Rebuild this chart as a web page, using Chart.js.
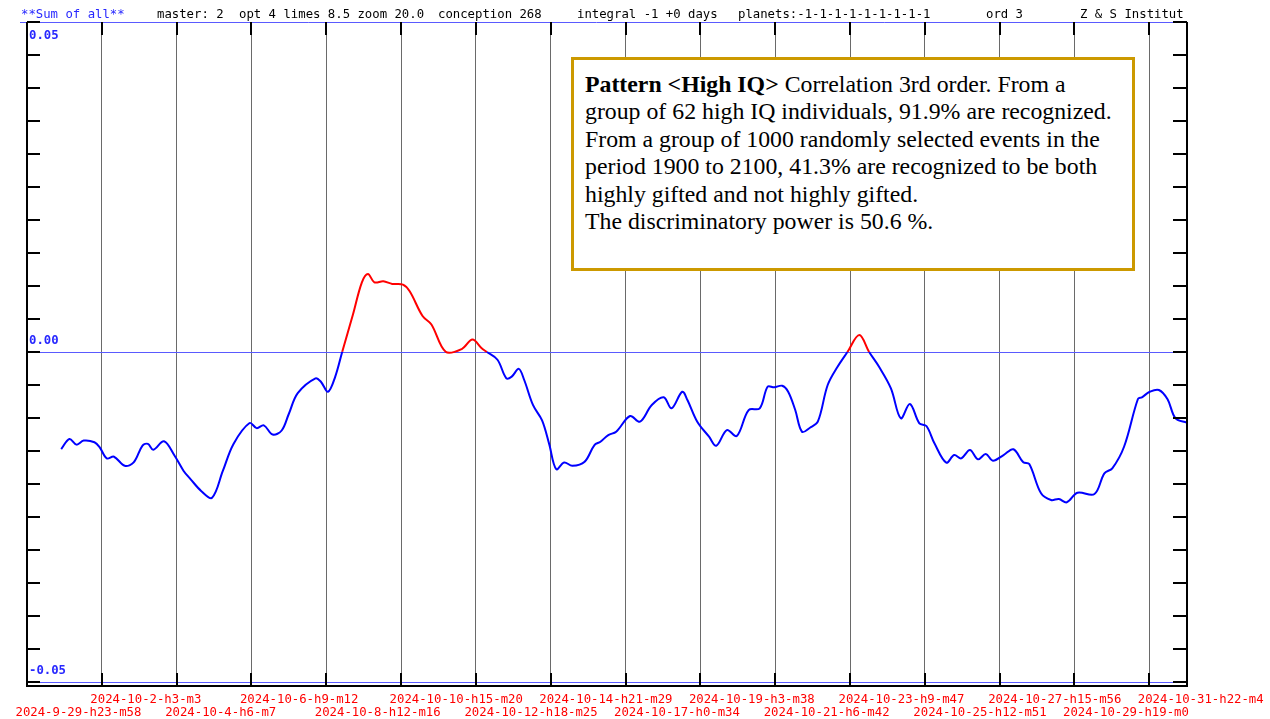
<!DOCTYPE html>
<html>
<head>
<meta charset="utf-8">
<script src="https://cdn.jsdelivr.net/npm/chart.js@4.4.1/dist/chart.umd.min.js"></script>
<style>
  html, body { margin: 0; padding: 0; background: #fff; }
  #wrap { position: relative; width: 1270px; height: 719px; }
  #note {
    position: absolute; left: 571px; top: 57px; width: 564px; height: 214px;
    box-sizing: border-box; border: 3px solid #cc9900; background: #fff;
    padding: 11px 0 0 11px; white-space: nowrap; color: #000;
    font-family: "Liberation Serif", "Times New Roman", serif; font-size: 23.8px; line-height: 27.4px;
  }
</style>
</head>
<body>
<div id="wrap">
  <canvas id="chart" width="1270" height="719"></canvas>
  <div id="note"><b>Pattern &lt;High IQ&gt;</b> Correlation 3rd order. From a<br>group of 62 high IQ individuals, 91.9% are recognized.<br>From a group of 1000 randomly selected events in the<br>period 1900 to 2100, 41.3% are recognized to be both<br>highly gifted and not highly gifted.<br>The discriminatory power is 50.6 %.</div>
</div>
<script>
// tick labels under the x axis, one per grid line (first one sits on the left axis)
const dateLabels = [
  '2024-9-29-h23-m58', '2024-10-2-h3-m3', '2024-10-4-h6-m7', '2024-10-6-h9-m12',
  '2024-10-8-h12-m16', '2024-10-10-h15-m20', '2024-10-12-h18-m25', '2024-10-14-h21-m29',
  '2024-10-17-h0-m34', '2024-10-19-h3-m38', '2024-10-21-h6-m42', '2024-10-23-h9-m47',
  '2024-10-25-h12-m51', '2024-10-27-h15-m56', '2024-10-29-h19-m0', '2024-10-31-h22-m4'
];
const gridStep = 2.1285; // days between labels
const dayRange = 33.0;

// days since 2024-9-29 h23 m58
const dayOffsets = [
  0.973, 1.206, 1.410, 1.612, 1.919, 2.069, 2.270, 2.475, 2.781, 3.034,
  3.286, 3.440, 3.593, 3.897, 4.200, 4.456, 4.657, 4.961, 5.264, 5.571,
  5.875, 6.332, 6.533, 6.737, 6.990, 7.245, 7.447, 7.702, 8.207, 8.361,
  8.562, 8.767, 8.968, 9.275, 9.527, 9.700, 9.882, 10.137, 10.390, 10.694,
  10.887, 11.253, 11.505, 11.911, 12.368, 12.672, 12.927, 13.083, 13.384, 13.637,
  13.790, 13.991, 14.145, 14.397, 14.653, 14.854, 15.056, 15.280, 15.513, 15.864,
  16.143, 16.313, 16.537, 16.761, 17.156, 17.437, 17.774, 18.112, 18.336, 18.640,
  18.788, 19.068, 19.403, 19.608, 19.911, 20.192, 20.530, 20.845, 21.069, 21.259,
  21.484, 21.654, 21.855, 22.048, 22.273, 22.497, 22.778, 23.059, 23.340, 23.677,
  23.958, 24.239, 24.577, 24.858, 25.116, 25.386, 25.587, 25.815, 26.152, 26.376,
  26.578, 26.825, 27.052, 27.276, 27.478, 27.781, 28.062, 28.343, 28.513, 28.848,
  29.132, 29.356, 29.580, 29.884, 30.367, 30.650, 30.875, 31.209, 31.604, 31.717,
  31.942, 32.200, 32.447, 32.674, 33.000
];
const sumValues = [
  -0.01470, -0.01317, -0.01403, -0.01342, -0.01367, -0.01444, -0.01612, -0.01586, -0.01724, -0.01673,
  -0.01418, -0.01392, -0.01479, -0.01352, -0.01571, -0.01802, -0.01929, -0.02108, -0.02209, -0.01802,
  -0.01392, -0.01076, -0.01153, -0.01112, -0.01250, -0.01189, -0.00939, -0.00623, -0.00398, -0.00450,
  -0.00602, -0.00376, 0.00005, 0.00571, 0.01056, 0.01183, 0.01056, 0.01071, 0.01032, 0.01021,
  0.00920, 0.00545, 0.00418, 0.00003, 0.00045, 0.00189, 0.00061, 0.00000, -0.00117, -0.00398,
  -0.00373, -0.00255, -0.00424, -0.00806, -0.01036, -0.01392, -0.01776, -0.01673, -0.01724, -0.01662,
  -0.01409, -0.01359, -0.01258, -0.01208, -0.00970, -0.01056, -0.00803, -0.00686, -0.00853, -0.00602,
  -0.00727, -0.01056, -0.01283, -0.01420, -0.01182, -0.01273, -0.00879, -0.00853, -0.00526, -0.00535,
  -0.00511, -0.00602, -0.00879, -0.01208, -0.01147, -0.01056, -0.00500, -0.00223, 0.00000, 0.00258,
  0.00000, -0.00223, -0.00550, -0.01005, -0.00788, -0.01080, -0.01121, -0.01383, -0.01677, -0.01561,
  -0.01611, -0.01485, -0.01626, -0.01545, -0.01647, -0.01561, -0.01474, -0.01671, -0.01697, -0.02141,
  -0.02242, -0.02227, -0.02277, -0.02132, -0.02152, -0.01838, -0.01762, -0.01435, -0.00712, -0.00686,
  -0.00602, -0.00576, -0.00717, -0.01005, -0.01071
];

const levelValues = [0.05, 0, -0.05];
const tickStep = 0.005;

const headerParts = [
  { text: '**Sum of all**', color: 'rgb(40,40,255)' },
  { text: 'master: 2', color: '#000' },
  { text: 'opt 4 limes 8.5 zoom 20.0', color: '#000' },
  { text: 'conception 268', color: '#000' },
  { text: 'integral -1 +0 days', color: '#000' },
  { text: 'planets:-1-1-1-1-1-1-1-1-1', color: '#000' },
  { text: 'ord 3', color: '#000' },
  { text: 'Z & S Institut', color: '#000' }
];
const headerX = [21, 157, 239, 438, 577, 738, 986, 1080];

const MONO = '"DejaVu Sans Mono", "Liberation Mono", monospace';
const LEVEL_BLUE = 'rgb(90,90,255)';

const framePlugin = {
  id: 'frame',
  beforeDatasetsDraw(chart) {
    const { ctx, chartArea: a, scales: { y } } = chart;
    ctx.save();
    ctx.strokeStyle = LEVEL_BLUE;
    ctx.lineWidth = 1;
    levelValues.forEach((v, i) => {
      const py = Math.round(y.getPixelForValue(v)) + 0.5;
      ctx.beginPath();
      ctx.moveTo(i === 0 ? 20 : a.left, py);
      ctx.lineTo(i === 0 ? a.right - 14 : a.right, py);
      ctx.stroke();
    });
    ctx.restore();
  },
  afterDraw(chart) {
    const { ctx, chartArea: a, scales: { x, y } } = chart;
    ctx.save();
    ctx.strokeStyle = '#000';
    ctx.lineWidth = 2;

    // frame (left, right, bottom)
    ctx.beginPath();
    ctx.moveTo(a.left, a.top); ctx.lineTo(a.left, a.bottom + 1);
    ctx.moveTo(a.right, a.top); ctx.lineTo(a.right, a.bottom + 1);
    ctx.moveTo(a.left - 1, a.bottom); ctx.lineTo(a.right + 1, a.bottom);
    ctx.stroke();

    // short y ticks on both sides
    ctx.beginPath();
    for (let v = -0.05; v <= 0.05 + 1e-9; v += tickStep) {
      const py = Math.round(y.getPixelForValue(v));
      ctx.moveTo(a.left, py); ctx.lineTo(a.left + 13, py);
      ctx.moveTo(a.right - 14, py); ctx.lineTo(a.right, py);
    }
    ctx.stroke();

    // stubs on the vertical grid lines
    ctx.beginPath();
    dateLabels.forEach((_, i) => {
      if (i === 0) return;
      const px = Math.round(x.getPixelForValue(i * gridStep));
      ctx.moveTo(px, a.top); ctx.lineTo(px, a.top + 13);
      ctx.moveTo(px, a.bottom - 13); ctx.lineTo(px, a.bottom);
    });
    ctx.stroke();

    // level labels
    ctx.font = 'bold 12.3px ' + MONO;
    ctx.fillStyle = 'rgb(40,40,255)';
    ctx.textBaseline = 'middle';
    ctx.textAlign = 'left';
    levelValues.forEach((v, i) => {
      const py = y.getPixelForValue(v);
      ctx.fillText(v.toFixed(2), a.left + 2, i === 0 ? py + 14 : py - 11);
    });

    // date labels, alternating rows
    ctx.font = '12.3px ' + MONO;
    ctx.fillStyle = '#ff0000';
    dateLabels.forEach((label, i) => {
      const px = x.getPixelForValue(i * gridStep) - 11.5;
      ctx.fillText(label, px, i % 2 === 0 ? 713 : 700);
    });

    // header line
    headerParts.forEach((part, i) => {
      ctx.fillStyle = part.color;
      ctx.fillText(part.text, headerX[i], 15);
    });
    ctx.restore();
  }
};

const RED = 'rgb(255,0,0)';
const BLUE = 'rgb(0,0,255)';

new Chart(document.getElementById('chart'), {
  type: 'line',
  data: {
    datasets: [{
      label: 'Sum of all',
      data: dayOffsets.map((d, i) => ({ x: d, y: sumValues[i] })),
      borderColor: BLUE,
      borderWidth: 2,
      pointRadius: 0,
      tension: 0.35,
      segment: {
        borderColor: (c) => (c.p0.parsed.y >= 0 && c.p1.parsed.y >= 0 ? RED : BLUE)
      }
    }]
  },
  options: {
    responsive: false,
    animation: false,
    layout: { padding: { left: 27, right: 83, top: 22, bottom: 33 } },
    plugins: { legend: { display: false }, tooltip: { enabled: false } },
    scales: {
      x: {
        type: 'linear',
        min: 0,
        max: dayRange,
        afterBuildTicks: (scale) => {
          scale.ticks = dateLabels.map((_, i) => ({ value: i * gridStep }));
        },
        ticks: { display: false },
        border: { display: false },
        grid: { color: '#6a6a6a', lineWidth: 1, drawTicks: false }
      },
      y: {
        display: false,
        min: -0.0506,
        max: 0.05
      }
    }
  },
  plugins: [framePlugin]
});
</script>
</body>
</html>
